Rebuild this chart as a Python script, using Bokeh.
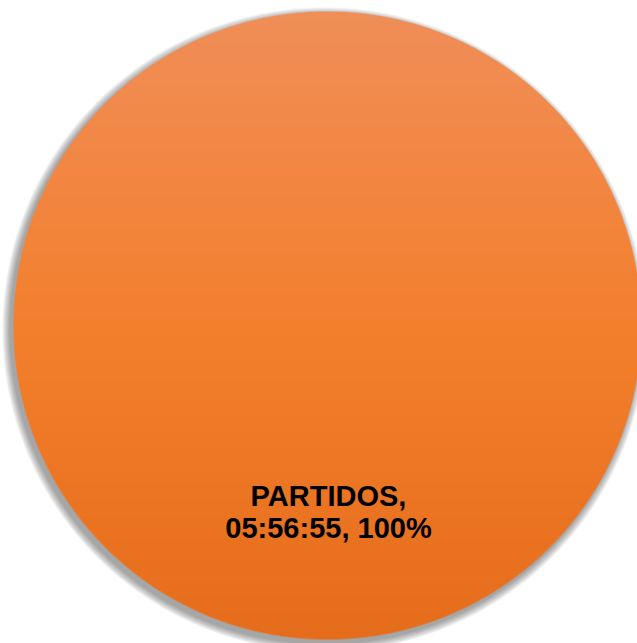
import math
import numpy as np
from bokeh.plotting import figure
from bokeh.models import Range1d, ColumnDataSource
from bokeh.core.properties import value
from bokeh.embed import file_html
from bokeh.resources import INLINE

# ---- data ----
categories = ["PARTIDOS"]
durations = ["05:56:55"]
seconds = [5 * 3600 + 56 * 60 + 55]

total = sum(seconds)
fractions = [s / total for s in seconds]
percents = [round(f * 100) for f in fractions]

# ---- layout (pixel units, 1 data unit = 1 px) ----
W, H = 637, 643
CX, CY, R = 327, 318, 314
EPS = 1e-6  # a full 360 deg wedge would collapse to zero sweep

starts, ends, mids = [], [], []
acc = 0.0
for f in fractions:
    a0 = math.pi / 2 - 2 * math.pi * acc
    a1 = math.pi / 2 - 2 * math.pi * (acc + f) + (EPS if f >= 1 else 0)
    starts.append(a0)
    ends.append(a1)
    mids.append(math.pi / 2 - 2 * math.pi * (acc + f / 2))
    acc += f

labels = [f"{c},\n{d}, {p}%" for c, d, p in zip(categories, durations, percents)]
lab_r = 0.594 * R
src = ColumnDataSource(dict(
    x=[CX] * len(categories), y=[CY] * len(categories),
    start=starts, end=ends,
    lx=[CX + 1 + lab_r * math.cos(m) for m in mids],
    ly=[CY + lab_r * math.sin(m) for m in mids],
    label=labels,
))

# ---- vertical gradient fill for the slice (style only) ----
stops_t = [0.0, 0.5, 1.0]
stops_c = [(240, 142, 88), (243, 127, 45), (229, 108, 26)]

yy, xx = np.mgrid[0:H, 0:W].astype(float)
px, py = xx + 0.5, yy + 0.5
dist = np.hypot(px - CX, py - CY)
cover = np.clip(R + 0.5 - dist, 0, 1)
ang = np.arctan2(py - CY, px - CX)
t = np.clip((CY + R - py) / (2 * R), 0, 1)  # 0 at top, 1 at bottom
rgb = [np.interp(t, stops_t, [c[i] for c in stops_c]) for i in range(3)]
img = np.zeros((H, W), dtype=np.uint32)
view = img.view(dtype=np.uint8).reshape((H, W, 4))
view[:, :, 0] = np.round(rgb[0]).astype(np.uint8)
view[:, :, 1] = np.round(rgb[1]).astype(np.uint8)
view[:, :, 2] = np.round(rgb[2]).astype(np.uint8)
view[:, :, 3] = np.round(cover * 255).astype(np.uint8)

p = figure(width=W, height=H, x_range=Range1d(0, W), y_range=Range1d(0, H),
           output_backend="svg", toolbar_location=None, min_border=0)
p.axis.visible = False
p.grid.visible = False
p.outline_line_color = None
p.background_fill_color = "white"
p.border_fill_color = "white"

# soft shadow, offset down-left
for k in range(9, 0, -1):
    p.wedge(x=CX - 3, y=CY - 4, radius=R + k * 0.9, start_angle="start", end_angle="end",
            direction="clock", source=src, fill_color="#303030", fill_alpha=0.06,
            line_color=None)

p.wedge(x="x", y="y", radius=R - 0.5, start_angle="start", end_angle="end", direction="clock",
        source=src, fill_color="#F27F30", line_color=None)
p.image_rgba(image=[img], x=0, y=0, dw=W, dh=H)

p.text(x="lx", y="ly", text="label", source=src, text_align="center",
       text_baseline="middle", text_font=value("Liberation Sans"), text_font_style="bold",
       text_font_size="29px", text_color="black", text_line_height=1.0)

open("out.html", "w").write(file_html(p, INLINE))
